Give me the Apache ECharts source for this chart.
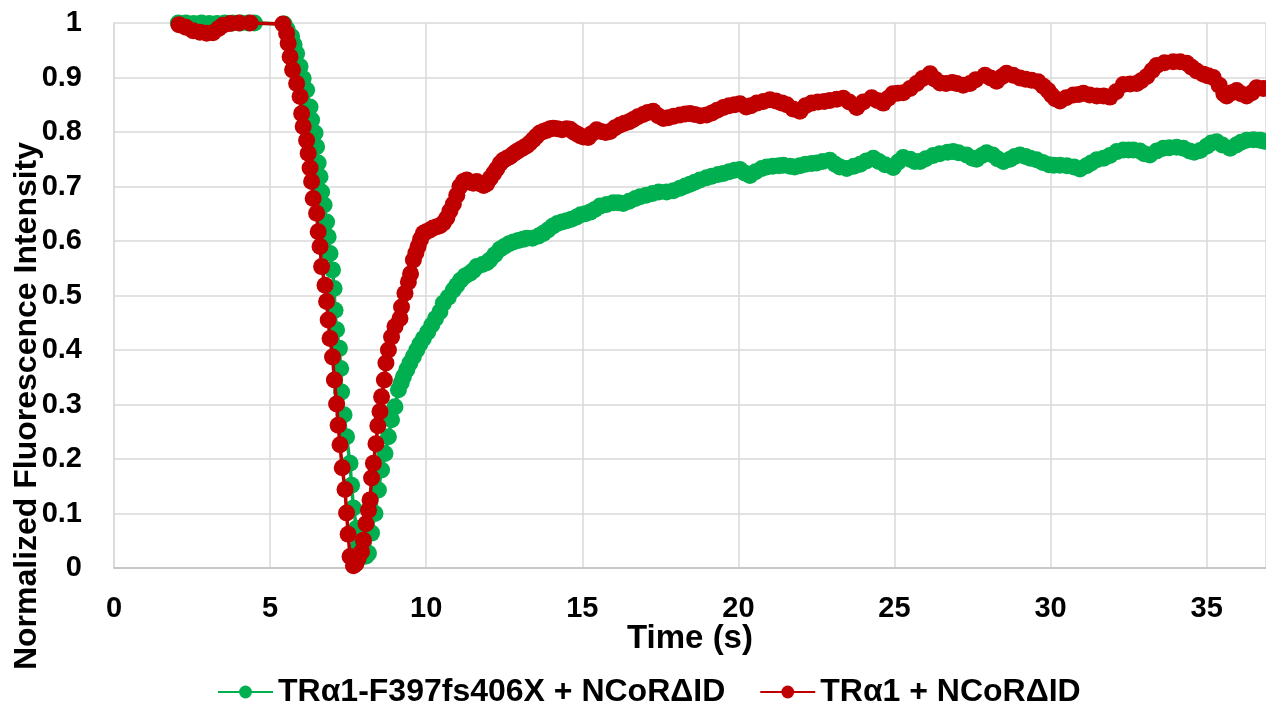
<!DOCTYPE html>
<html><head><meta charset="utf-8">
<script src="https://cdn.jsdelivr.net/npm/echarts@6/dist/echarts.min.js"></script>
<style>html,body{margin:0;padding:0;background:#fff}#c{width:1266px;height:702px}</style>
</head><body><div id="c"></div>
<script>
const seriesNames = ['TRα1-F397fs406X + NCoRΔID', 'TRα1 + NCoRΔID'];
const xTitle = 'Time (s)';
const yTitle = 'Normalized Fluorescence Intensity';

const greenT = [2.06,2.30,2.55,2.80,3.05,3.30,3.55,3.80,4.05,4.30,4.50,5.45,
5.55,5.69,5.77,5.85,5.96,6.06,6.17,6.28,6.33,6.44,6.49,6.54,6.60,6.65,6.73,6.81,6.86,6.92,7.00,7.05,7.08,7.13,7.22,7.26,7.29,7.37,7.45,7.56,7.61,7.67,7.77,7.82,7.90,7.99,8.08,8.15,
8.25,8.36,8.47,8.57,8.68,8.79,8.89,9.00,9.11,9.20,9.27,9.38,9.48,9.59,9.70,9.80,9.91,10.05,10.18,10.30,10.44,10.55,10.71,10.87,10.98,11.10,11.25,11.40,11.51,11.62,11.80,11.94,
12.04,12.20,12.36,12.50,12.65,12.79,12.95,13.10,13.22,13.40,13.60,13.75,13.90,14.05,14.20,14.35,14.50,14.65,14.82,14.95,15.10,15.25,15.40,15.57,15.78,15.99,16.15,16.31,16.50,16.70,16.85,
17.05,17.25,17.45,17.70,17.92,18.13,18.30,18.45,18.60,18.77,18.98,19.15,19.35,19.52,19.70,19.88,20.05,20.20,20.37,20.55,20.75,20.91,21.10,21.30,21.44,21.65,21.80,21.97,
22.15,22.35,22.51,22.70,22.93,23.10,23.25,23.47,23.70,23.90,24.10,24.32,24.50,24.70,24.96,25.12,25.28,25.50,25.65,25.82,26.00,26.24,26.45,26.70,26.88,27.05,27.31,27.50,27.63,27.80,27.95,
28.15,28.30,28.49,28.70,28.85,29.02,29.20,29.35,29.55,29.75,29.95,30.10,30.30,30.52,30.75,30.94,31.15,31.30,31.48,31.70,31.90,32.12,32.33,32.50,32.65,32.86,33.00,33.18,33.40,33.61,33.80,
34.04,34.25,34.45,34.60,34.79,35.00,35.15,35.32,35.50,35.75,35.95,36.10,36.28,36.50,36.71,36.85];
const greenV = [1.000,1.000,0.999,1.000,0.999,0.999,1.000,1.000,1.000,1.000,1.000,0.998,
0.988,0.975,0.960,0.944,0.920,0.898,0.877,0.846,0.822,0.798,0.773,0.743,0.718,0.690,0.666,0.635,0.608,0.577,0.547,0.513,0.473,0.437,0.403,0.366,0.323,0.281,0.241,0.192,0.152,0.110,0.073,0.039,0.025,0.021,0.022,0.027,
0.064,0.100,0.143,0.180,0.210,0.241,0.272,0.296,0.327,0.340,0.351,0.364,0.376,0.388,0.400,0.411,0.421,0.433,0.446,0.458,0.470,0.486,0.497,0.510,0.519,0.528,0.536,0.541,0.546,0.553,0.557,0.560,
0.565,0.575,0.585,0.590,0.595,0.598,0.601,0.603,0.605,0.605,0.609,0.614,0.620,0.627,0.632,0.635,0.637,0.640,0.644,0.648,0.650,0.653,0.658,0.664,0.667,0.670,0.670,0.669,0.673,0.678,0.681,
0.684,0.687,0.690,0.690,0.692,0.697,0.701,0.704,0.708,0.712,0.716,0.719,0.722,0.724,0.727,0.730,0.731,0.725,0.720,0.727,0.733,0.736,0.737,0.738,0.739,0.737,0.736,0.738,
0.741,0.742,0.743,0.746,0.748,0.741,0.736,0.733,0.737,0.741,0.747,0.752,0.746,0.740,0.735,0.745,0.753,0.750,0.746,0.746,0.751,0.757,0.760,0.763,0.764,0.762,0.758,0.752,0.750,0.757,0.762,
0.758,0.751,0.746,0.750,0.755,0.758,0.755,0.752,0.749,0.744,0.740,0.739,0.739,0.738,0.736,0.732,0.738,0.743,0.749,0.752,0.757,0.764,0.767,0.767,0.767,0.765,0.760,0.758,0.765,0.770,0.771,
0.772,0.770,0.765,0.763,0.766,0.774,0.780,0.782,0.776,0.770,0.776,0.781,0.785,0.786,0.785,0.783];

const redT = [2.08,2.30,2.53,2.75,2.97,3.17,3.35,3.49,3.72,4.00,4.36,5.41,
5.53,5.58,5.64,5.72,5.85,5.96,6.01,6.06,6.17,6.22,6.28,6.33,6.38,6.49,6.54,6.60,6.65,6.76,6.81,6.86,6.92,7.00,7.06,7.13,7.18,7.24,7.31,7.40,7.45,7.50,7.56,7.67,7.75,7.82,7.93,7.99,
8.07,8.15,8.20,8.25,8.31,8.39,8.45,8.52,8.57,8.66,8.71,8.79,8.89,9.00,9.16,9.21,9.32,9.43,
9.50,9.59,9.67,9.74,9.82,9.91,10.00,10.12,10.22,10.34,10.44,10.55,10.66,10.76,10.87,10.98,11.08,11.19,11.30,11.41,11.51,11.62,11.73,11.84,11.94,
12.05,12.16,12.26,12.37,12.47,12.58,12.69,12.80,12.90,13.01,13.11,13.22,13.32,13.43,13.53,13.64,13.75,13.86,13.97,14.07,14.20,14.35,14.50,14.61,14.72,14.82,14.93,15.04,15.19,15.30,15.46,
15.60,15.75,15.89,16.05,16.21,16.35,16.50,16.63,16.78,16.95,17.10,17.27,17.43,17.60,17.75,17.93,18.13,18.30,18.45,18.60,18.78,18.98,19.15,19.32,19.52,19.70,19.88,20.05,20.25,20.40,20.59,
20.80,21.01,21.20,21.40,21.55,21.75,21.97,22.15,22.35,22.55,22.75,22.93,23.15,23.36,23.55,23.79,24.00,24.27,24.45,24.64,24.80,24.95,25.10,25.28,25.50,25.71,25.90,26.14,26.30,26.46,26.65,
26.85,26.99,27.20,27.42,27.60,27.90,28.08,28.27,28.45,28.59,28.80,29.02,29.20,29.39,29.60,29.77,29.92,30.03,30.15,30.30,30.50,30.73,30.90,31.05,31.25,31.48,31.70,31.90,32.10,32.33,32.55,
32.76,32.90,33.08,33.25,33.40,33.65,33.93,34.15,34.36,34.52,34.68,34.90,35.05,35.21,35.40,35.55,35.64,35.80,35.96,36.10,36.28,36.45,36.60,36.81];
const redV = [0.997,0.992,0.986,0.983,0.981,0.982,0.990,0.996,0.999,1.000,1.000,0.998,
0.981,0.963,0.938,0.914,0.889,0.865,0.834,0.810,0.785,0.761,0.734,0.709,0.678,0.651,0.617,0.590,0.553,0.519,0.489,0.455,0.421,0.387,0.345,0.301,0.262,0.226,0.184,0.144,0.101,0.062,0.021,0.004,0.008,0.018,0.030,0.051,
0.081,0.106,0.125,0.165,0.192,0.228,0.261,0.287,0.314,0.345,0.376,0.400,0.424,0.443,0.458,0.479,0.504,0.525,
0.540,0.565,0.578,0.590,0.603,0.614,0.617,0.620,0.624,0.626,0.628,0.633,0.642,0.655,0.668,0.684,0.700,0.709,0.712,0.708,0.706,0.709,0.705,0.702,0.705,
0.715,0.724,0.732,0.742,0.748,0.752,0.755,0.760,0.764,0.768,0.771,0.775,0.780,0.786,0.792,0.798,0.801,0.803,0.806,0.807,0.806,0.804,0.806,0.805,0.800,0.797,0.793,0.791,0.790,0.797,0.804,
0.801,0.799,0.801,0.808,0.813,0.816,0.819,0.823,0.828,0.832,0.836,0.838,0.830,0.825,0.826,0.829,0.831,0.833,0.834,0.832,0.830,0.831,0.835,0.840,0.845,0.848,0.850,0.852,0.846,0.848,0.853,
0.856,0.859,0.857,0.853,0.850,0.842,0.838,0.848,0.853,0.855,0.856,0.858,0.860,0.862,0.855,0.845,0.855,0.863,0.858,0.853,0.862,0.870,0.871,0.872,0.880,0.889,0.898,0.907,0.897,0.890,0.889,
0.891,0.889,0.886,0.889,0.896,0.904,0.899,0.893,0.902,0.908,0.904,0.899,0.897,0.895,0.892,0.884,0.876,0.868,0.861,0.857,0.863,0.868,0.869,0.871,0.868,0.866,0.866,0.864,0.874,0.887,0.888,
0.889,0.894,0.902,0.913,0.922,0.927,0.929,0.929,0.926,0.919,0.912,0.906,0.903,0.900,0.886,0.870,0.866,0.872,0.876,0.870,0.866,0.872,0.881,0.880];

function pairs(t, v) { return t.map((x, i) => [x, v[i]]); }

const FONT = '"Liberation Sans", Arial, Helvetica, sans-serif';
const chart = echarts.init(document.getElementById('c'), null, {renderer: 'canvas'});
chart.setOption({
  animation: false,
  backgroundColor: '#ffffff',
  textStyle: {fontFamily: FONT, fontWeight: 'bold', color: '#000'},
  grid: {left: 114, right: 0, top: 23, bottom: 134, containLabel: false, outerBoundsMode: 'none'},
  legend: {
    left: 212, top: 671, itemWidth: 55, itemHeight: 16, itemGap: 34,
    textStyle: {fontFamily: FONT, fontSize: 32, fontWeight: 'bold', color: '#000'},
    data: seriesNames
  },
  xAxis: {
    type: 'value', min: 0, max: 36.9, interval: 5,
    name: xTitle, nameLocation: 'middle', nameGap: 54, nameMoveOverlap: false,
    nameTextStyle: {fontFamily: FONT, fontSize: 33, fontWeight: 'bold', color: '#000'},
    axisLine: {show: true, lineStyle: {color: '#bfbfbf', width: 1.5}},
    axisTick: {show: false},
    axisLabel: {fontFamily: FONT, fontSize: 29, fontWeight: 'bold', color: '#000', margin: 26, showMaxLabel: false},
    splitLine: {show: true, lineStyle: {color: '#d9d9d9', width: 1.5}}
  },
  yAxis: {
    type: 'value', min: 0, max: 1, interval: 0.1,
    name: yTitle, nameLocation: 'middle', nameGap: 71, nameRotate: 90, nameMoveOverlap: false,
    nameTextStyle: {fontFamily: FONT, fontSize: 32, fontWeight: 'bold', color: '#000', padding: [0, 221, 0, 0]},
    axisLine: {show: true, lineStyle: {color: '#d9d9d9', width: 1.5}},
    axisTick: {show: false},
    axisLabel: {fontFamily: FONT, fontSize: 29, fontWeight: 'bold', color: '#000', margin: 32},
    splitLine: {show: true, lineStyle: {color: '#d9d9d9', width: 1.5}}
  },
  series: [
    {
      name: seriesNames[0], type: 'line', data: pairs(greenT, greenV),
      symbol: 'circle', symbolSize: 17, showSymbol: true, showAllSymbol: true, clip: false,
      color: '#00b050', itemStyle: {color: '#00b050', borderWidth: 0},
      lineStyle: {color: '#00b050', width: 3.5}, z: 2
    },
    {
      name: seriesNames[1], type: 'line', data: pairs(redT, redV),
      symbol: 'circle', symbolSize: 17, showSymbol: true, showAllSymbol: true, clip: false,
      color: '#c00000', itemStyle: {color: '#c00000', borderWidth: 0},
      lineStyle: {color: '#c00000', width: 3.5}, z: 3
    }
  ]
});
</script></body></html>
